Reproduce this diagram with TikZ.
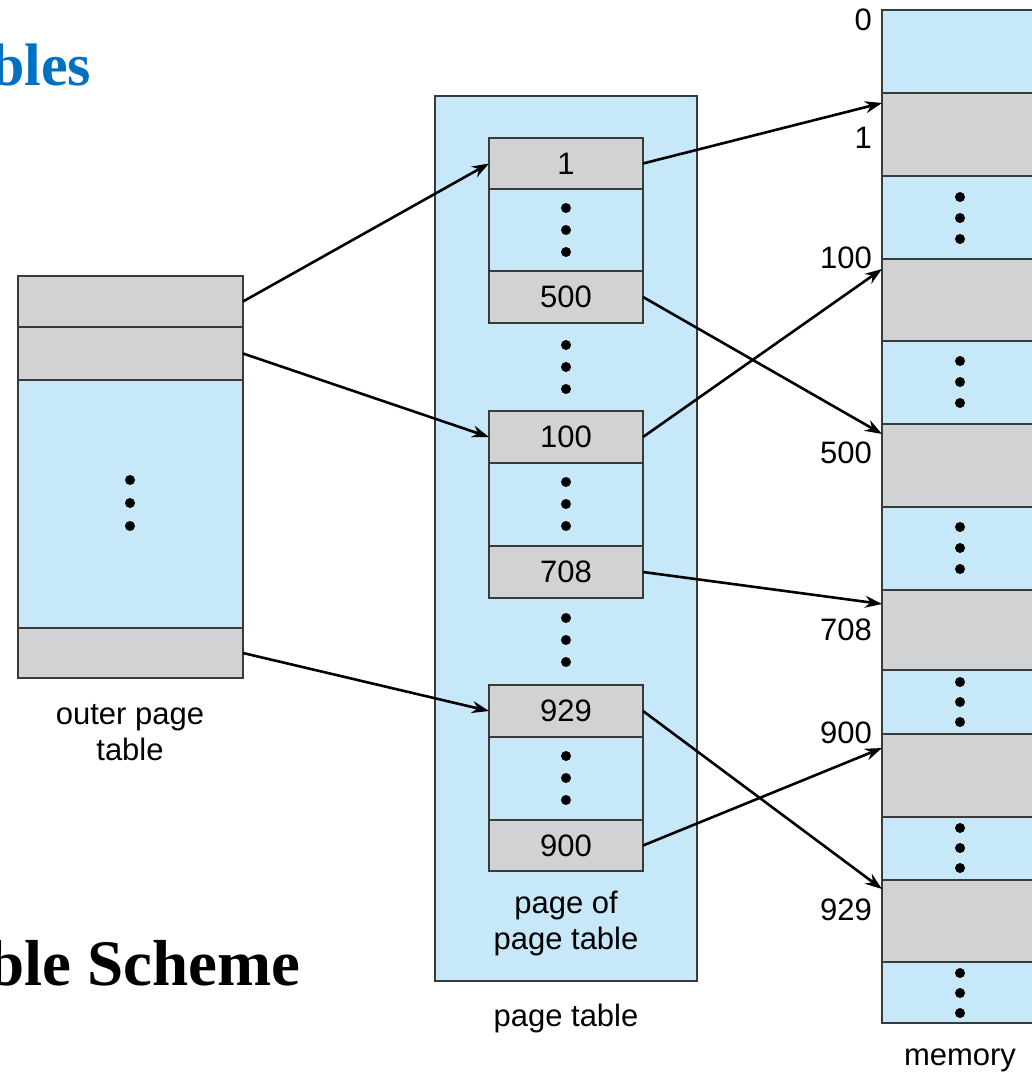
\documentclass[tikz,border=0pt]{standalone}
\usepackage{fontspec}
\setmainfont{Liberation Sans}
\newfontfamily\titlefont{Liberation Serif}
\usetikzlibrary{arrows.meta}
\definecolor{cellblue}{HTML}{C6E8F8}
\definecolor{cellgray}{HTML}{D1D2D4}
\definecolor{edgegray}{HTML}{3A3A3A}
\definecolor{titleblue}{HTML}{0070C0}

% three stacked dots centred on (#1,#2), spacing #3
\newcommand{\stackdots}[3]{%
  \fill (#1,#2-#3) circle (5);
  \fill (#1,#2) circle (5);
  \fill (#1,#2+#3) circle (5);
}

\begin{document}
\begin{tikzpicture}[x=1pt,y=-1pt,
  cellbase/.style={draw=edgegray, line width=2pt, inner sep=0pt, outer sep=0pt,
                   anchor=north west, font=\fontsize{31}{36}\selectfont},
  gcell/.style={cellbase, fill=cellgray},
  bcell/.style={cellbase, fill=cellblue},
  lbl/.style={font=\fontsize{31}{36}\selectfont, align=center, inner sep=0pt},
  addr/.style={font=\fontsize{31}{36}\selectfont, anchor=east, inner sep=0pt},
  link/.style={line width=2.6pt, -{Stealth[length=17pt,width=12pt]}}
]
\useasboundingbox (0,0) rectangle (1032,1078);
\clip (0,0) rectangle (1032,1078);

% titles cut at the left edge
\node[anchor=base west, inner sep=0pt, text=titleblue,
      font=\titlefont\bfseries\fontsize{60}{66}\selectfont] (ttop) at (-9,86) {bles};
\node[anchor=base west, inner sep=0pt,
      font=\titlefont\bfseries\fontsize{65}{72}\selectfont] (tbot) at (-12,985) {ble Scheme};

% outer page table
\node[gcell, minimum width=225, minimum height=51] (o1) at (18,276) {};
\node[gcell, minimum width=225, minimum height=53] (o2) at (18,327) {};
\node[bcell, minimum width=225, minimum height=248] (o3) at (18,380) {};
\node[gcell, minimum width=225, minimum height=50] (o4) at (18,628) {};
\stackdots{130}{503}{23}
\node[lbl] (olabel) at (130,733) {outer page\\table};

% page table
\node[bcell, minimum width=262, minimum height=885] (pt) at (435,96) {};
\node[gcell, minimum width=154, minimum height=51] (p1) at (489,138) {1};
\node[bcell, minimum width=154, minimum height=82] (p1m) at (489,189) {};
\node[gcell, minimum width=154, minimum height=52] (p500) at (489,271) {500};
\node[gcell, minimum width=154, minimum height=52] (p100) at (489,411) {100};
\node[bcell, minimum width=154, minimum height=83] (p100m) at (489,463) {};
\node[gcell, minimum width=154, minimum height=52] (p708) at (489,546) {708};
\node[gcell, minimum width=154, minimum height=52] (p929) at (489,685) {929};
\node[bcell, minimum width=154, minimum height=83] (p929m) at (489,737) {};
\node[gcell, minimum width=154, minimum height=51] (p900) at (489,820) {900};
\stackdots{566}{230}{22}
\stackdots{566}{367}{22}
\stackdots{566}{504}{22}
\stackdots{566}{640}{22}
\stackdots{566}{778}{22}
\node[lbl] (pplabel) at (566,923) {page of\\page table};
\node[lbl] (ptlabel) at (566,1018) {page table};

% memory
\node[bcell, minimum width=170, minimum height=83] (m0) at (882,10) {};
\node[gcell, minimum width=170, minimum height=83] (m1) at (882,93) {};
\node[bcell, minimum width=170, minimum height=83] (md1) at (882,176) {};
\node[gcell, minimum width=170, minimum height=82] (m100) at (882,259) {};
\node[bcell, minimum width=170, minimum height=83] (md2) at (882,341) {};
\node[gcell, minimum width=170, minimum height=83] (m500) at (882,424) {};
\node[bcell, minimum width=170, minimum height=83] (md3) at (882,507) {};
\node[gcell, minimum width=170, minimum height=80] (m708) at (882,590) {};
\node[bcell, minimum width=170, minimum height=64] (md4) at (882,670) {};
\node[gcell, minimum width=170, minimum height=83] (m900) at (882,734) {};
\node[bcell, minimum width=170, minimum height=63] (md5) at (882,817) {};
\node[gcell, minimum width=170, minimum height=82] (m929) at (882,880) {};
\node[bcell, minimum width=170, minimum height=61] (md6) at (882,962) {};
\stackdots{960}{218}{21}
\stackdots{960}{382}{21}
\stackdots{960}{548}{21}
\stackdots{960}{702}{20}
\stackdots{960}{848}{20}
\stackdots{960}{993}{20}
\node[lbl] (mlabel) at (960,1060) {memory};

% addresses beside memory
\node[addr] (a0) at (872,20) {0};
\node[addr] (a1) at (872,138) {1};
\node[addr] (a100) at (872,258) {100};
\node[addr] (a500) at (872,453) {500};
\node[addr] (a708) at (872,630) {708};
\node[addr] (a900) at (872,733) {900};
\node[addr] (a929) at (872,910) {929};

% outer table -> pages of the page table
\draw[link] (o1.east) -- (p1.west);
\draw[link] (o2.east) -- (p100.west);
\draw[link] (o4.east) -- (p929.west);

% page table entries -> frames in memory
\draw[link] (p1.east) -- ([yshift=-10pt]m1.north west);
\draw[link] (p500.east) -- ([yshift=-10pt]m500.north west);
\draw[link] (p100.east) -- ([yshift=-10pt]m100.north west);
\draw[link] (p708.east) -- ([yshift=-14pt]m708.north west);
\draw[link] (p929.east) -- ([yshift=-9pt]m929.north west);
\draw[link] (p900.east) -- ([yshift=-14pt]m900.north west);
\end{tikzpicture}
\end{document}
